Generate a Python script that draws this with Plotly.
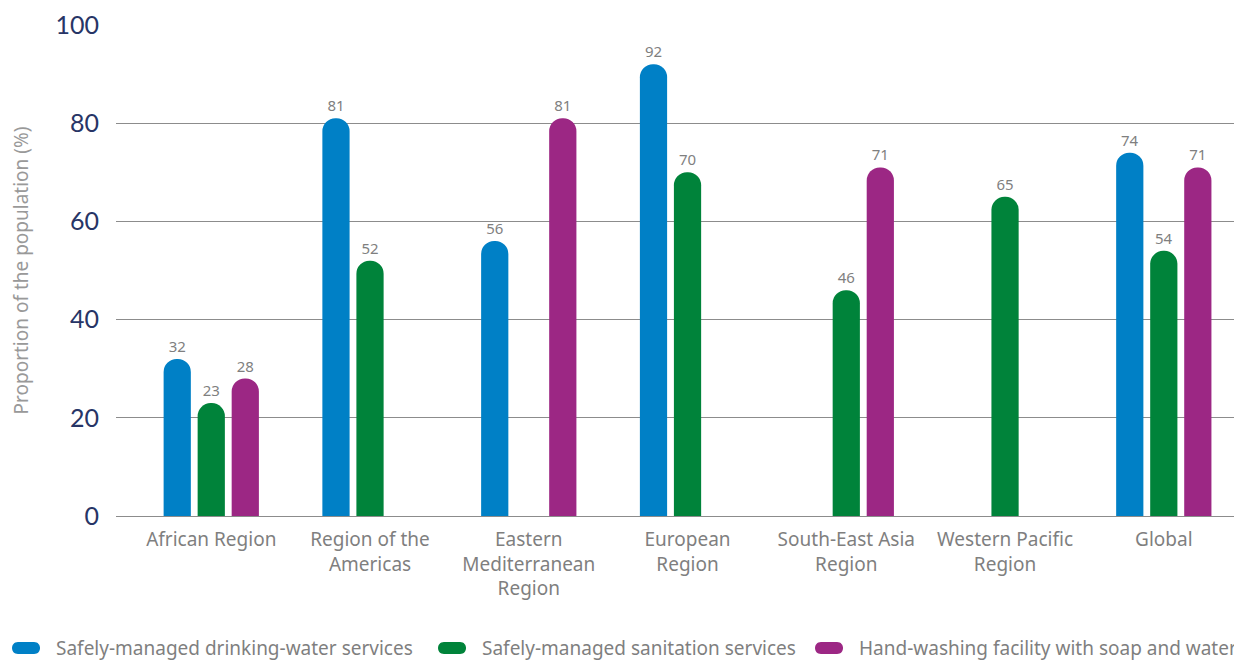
import plotly.graph_objects as go

categories = ["African Region", "Region of the<br>Americas", "Eastern<br>Mediterranean<br>Region",
              "European<br>Region", "South-East Asia<br>Region", "Western Pacific<br>Region", "Global"]
water = [32, 81, 56, 92, None, None, 74]
sanitation = [23, 52, None, 70, 46, 65, 54]
handwash = [28, None, 81, None, 71, None, 71]
series_names = ["Safely-managed drinking-water services",
                "Safely-managed sanitation services",
                "Hand-washing facility with soap and water"]
colors = ["#0080c6", "#00833a", "#9c2784"]

# page body has an 8px margin, so the figure is drawn at (8, 8)
OFF = 8
W, H = 1242 - OFF, 660 - OFF
ML, MR, MT = 116 - OFF, 2, 25 - OFF
plot_bottom = 516 - OFF
MB = H - plot_bottom
pw = W - ML - MR
ph = H - MT - MB

fig = go.Figure()
for name, vals, col in zip(series_names, [water, sanitation, handwash], colors):
    fig.add_trace(go.Bar(
        x=categories, y=vals, name=name,
        marker=dict(color=col, cornerradius="50%", line=dict(width=0)),
        text=[("" if v is None else str(v)) for v in vals],
        textposition="outside", cliponaxis=False,
        textfont=dict(family="Noto Sans", size=15, color="#7f7f7f"),
    ))

# custom legend with pill-shaped swatches
legend_px = [12 - OFF, 438 - OFF, 815 - OFF]
legend_y = (plot_bottom - (648 - OFF)) / ph
pill = "M 6,-6 L 22,-6 C 30,-6 30,6 22,6 L 6,6 C -2,6 -2,-6 6,-6 Z"
shapes, annos = [], []
for px, name, col in zip(legend_px, series_names, colors):
    shapes.append(dict(type="path", xref="paper", yref="paper", xsizemode="pixel", ysizemode="pixel",
                       xanchor=(px - ML) / pw, yanchor=legend_y, path=pill,
                       fillcolor=col, line=dict(width=0)))
    annos.append(dict(xref="paper", yref="paper", x=(px + 42 - ML) / pw, y=legend_y,
                      xanchor="left", yanchor="middle", text=name, showarrow=False,
                      font=dict(family="Noto Sans", size=19, color="#7f7f7f")))

fig.update_layout(
    width=W, height=H,
    margin=dict(l=ML, r=MR, t=MT, b=MB, autoexpand=False),
    paper_bgcolor="white", plot_bgcolor="white",
    barmode="group", bargap=0.357, bargroupgap=0.2,
    font=dict(family="Noto Sans", color="#7f7f7f"),
    showlegend=False,
    shapes=shapes, annotations=annos,
)
fig.update_yaxes(range=[0, 100], dtick=20, showgrid=True, gridcolor="#8c8c8c", gridwidth=1,
                 zeroline=True, zerolinecolor="#8c8c8c", zerolinewidth=1,
                 showline=False, ticks="", ticklabelstandoff=16,
                 tickfont=dict(family="Lato", size=25, color="#273566"),
                 title=dict(text="Proportion of the population (%)", standoff=24,
                            font=dict(family="Noto Sans", size=19, color="#999999")))
fig.update_xaxes(range=[-0.6, 6.48], showline=True, linecolor="#8c8c8c", linewidth=1, ticks="",
                 ticklabelstandoff=6,
                 tickfont=dict(family="Noto Sans", size=19, color="#7f7f7f"))

fig.write_html("out.html")
